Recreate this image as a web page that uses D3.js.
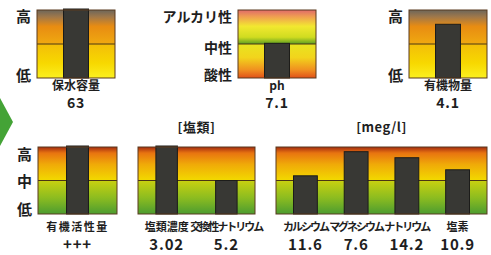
<!DOCTYPE html>
<html>
<head>
<meta charset="utf-8">
<script src="https://cdn.jsdelivr.net/npm/d3@7"></script>
<style>
  body { margin: 0; background: #fff; }
  text { font-family: "Noto Sans CJK JP", "Noto Sans", sans-serif; font-weight: bold; fill: #1e1e1e; }
</style>
</head>
<body>
<div id="chart"></div>
<script>
// soil analysis values (levels are bar heights, 0-100)
var waterLabels = ["保水容量"];
var waterValues = ["63"];
var waterLevels = [100];

var phLabels = ["ph"];
var phValues = ["7.1"];
var phLevels = [51];

var organicLabels = ["有機物量"];
var organicValues = ["4.1"];
var organicLevels = [79];

var activityLabels = ["有機活性量"];
var activityValues = ["+++"];
var activityLevels = [100];

var saltLabels = ["塩類濃度", "交換性ナトリウム"];
var saltValues = ["3.02", "5.2"];
var saltLevels = [100, 50];

var ionLabels = ["カルシウム", "マグネシウム", "ナトリウム", "塩素"];
var ionValues = ["11.6", "7.6", "14.2", "10.9"];
var ionLevels = [57, 93, 84, 66];

var hiLoTicks = ["低", "高"];
var hiMidLoTicks = ["低", "中", "高"];
var phTicks = ["酸性", "中性", "アルカリ性"];

var width = 491;
var height = 255;

var svg = d3.select("#chart").append("svg")
    .attr("width", width)
    .attr("height", height);

var defs = svg.append("defs");

// gradient backgrounds of the panels
function addGradient(id, stops) {
    var g = defs.append("linearGradient")
        .attr("id", id)
        .attr("x1", 0).attr("y1", 0)
        .attr("x2", 0).attr("y2", 1);
    stops.forEach(function(s) {
        g.append("stop").attr("offset", s[0]).attr("stop-color", s[1]);
    });
}

addGradient("amber", [
    [0, "#6c665a"], [0.1, "#a0784a"], [0.24, "#e88c12"], [0.49, "#f0a810"],
    [0.5, "#f3be08"], [0.78, "#f7d800"], [1, "#fbf020"]
]);
addGradient("phgrad", [
    [0, "#e06a6a"], [0.1, "#f0a050"], [0.24, "#f2e830"], [0.4, "#d0dc20"],
    [0.5, "#5c9e22"], [0.5, "#e8e420"], [0.7, "#f2d41c"], [0.88, "#f09020"], [1, "#e05018"]
]);
addGradient("green", [
    [0, "#a42c10"], [0.09, "#e87410"], [0.26, "#f0aa08"], [0.49, "#f2d800"],
    [0.5, "#c8d010"], [0.76, "#8cbc20"], [1, "#4c9c30"]
]);

// green arrow on the left edge
svg.append("path")
    .attr("d", d3.line()([[0, 98], [13, 122], [0, 146]]) + "Z")
    .attr("fill", "#44a336");

var panels = [
    {x0: 37, x1: 115, y0: 10, y1: 78, grad: "amber", pad: 0.515,
     labels: waterLabels, values: waterValues, levels: waterLevels,
     ticks: hiLoTicks, tickVals: [3, 90], tickSize: 15, big: true},
    {x0: 238, x1: 316, y0: 10, y1: 78, grad: "phgrad", pad: 0.515,
     labels: phLabels, values: phValues, levels: phLevels,
     ticks: phTicks, tickVals: [4, 44, 90], tickSize: 14, big: true},
    {x0: 409, x1: 487, y0: 10, y1: 78, grad: "amber", pad: 0.515,
     labels: organicLabels, values: organicValues, levels: organicLevels,
     ticks: hiLoTicks, tickVals: [4, 90], tickSize: 15, big: true},
    {x0: 38, x1: 117, y0: 147, y1: 214, grad: "green", pad: 0.565,
     labels: activityLabels, values: activityValues, levels: activityLevels,
     ticks: hiMidLoTicks, tickVals: [6, 48, 88], tickSize: 15, big: false, spacing: 1.5},
    {x0: 138, x1: 255, y0: 147, y1: 214, grad: "green", padIn: 0.64, padOut: 0.3,
     labels: saltLabels, values: saltValues, levels: saltLevels,
     title: "[塩類]", big: false},
    {x0: 276, x1: 487, y0: 147, y1: 214, grad: "green", padIn: 0.53, padOut: 0.345,
     labels: ionLabels, values: ionValues, levels: ionLevels,
     title: "[meg/l]", big: false}
];

var katakana = /[\u30A0-\u30FF]/;

panels.forEach(function(p) {
    var g = svg.append("g");

    var x = d3.scaleBand()
        .domain(p.labels)
        .range([p.x0, p.x1]);
    if (p.pad !== undefined) x.padding(p.pad);
    else x.paddingInner(p.padIn).paddingOuter(p.padOut);

    var y = d3.scaleLinear()
        .domain([0, 100])
        .range([p.y1, p.y0]);

    g.append("rect")
        .attr("x", p.x0)
        .attr("y", p.y0)
        .attr("width", p.x1 - p.x0)
        .attr("height", p.y1 - p.y0)
        .attr("fill", "url(#" + p.grad + ")");

    // middle line
    g.append("line")
        .attr("x1", p.x0).attr("x2", p.x1)
        .attr("y1", y(50)).attr("y2", y(50))
        .attr("stroke", "#4a3414")
        .attr("stroke-width", 1.2);

    g.selectAll(".bar")
        .data(p.levels)
        .enter().append("rect")
        .attr("class", "bar")
        .attr("x", function(d, i) { return x(p.labels[i]); })
        .attr("y", function(d) { return y(d) - (d >= 100 ? 1 : 0); })
        .attr("width", x.bandwidth())
        .attr("height", function(d) { return p.y1 - y(d) + (d >= 100 ? 1 : 0); })
        .attr("fill", "#383834")
        .attr("stroke", "#1c1c1a")
        .attr("stroke-width", 1);

    g.append("rect")
        .attr("x", p.x0)
        .attr("y", p.y0)
        .attr("width", p.x1 - p.x0)
        .attr("height", p.y1 - p.y0)
        .attr("fill", "none")
        .attr("stroke", "#5a3a1e")
        .attr("stroke-width", 1);

    // left labels 高/中/低
    if (p.ticks) {
        var ax = g.append("g")
            .attr("transform", "translate(" + p.x0 + ",0)")
            .call(d3.axisLeft(y)
                .tickValues(p.tickVals)
                .tickSize(0)
                .tickPadding(6)
                .tickFormat(function(d, i) { return p.ticks[i]; }));
        ax.select(".domain").remove();
        ax.selectAll("text")
            .attr("fill", null)
            .style("font-size", p.tickSize + "px")
            .style("font-family", null);
    }

    if (p.title) {
        g.append("text")
            .attr("x", (p.x0 + p.x1) / 2)
            .attr("y", 132)
            .attr("text-anchor", "middle")
            .style("font-size", "13px")
            .style("letter-spacing", "0.5px")
            .text(p.title);
    }

    var labelY = p.big ? 90 : 231;
    var valueY = p.big ? 108 : 250;

    g.selectAll(".cat")
        .data(p.labels)
        .enter().append("text")
        .attr("x", function(d) { return x(d) + x.bandwidth() / 2; })
        .attr("y", labelY)
        .attr("text-anchor", "middle")
        .style("font-size", p.big ? "12px" : "11px")
        .style("letter-spacing", function(d) {
            if (p.spacing) return p.spacing + "px";
            return katakana.test(d) ? "-2px" : "0px";
        })
        .text(function(d) { return d; });

    g.selectAll(".val")
        .data(p.values)
        .enter().append("text")
        .attr("x", function(d, i) { return x(p.labels[i]) + x.bandwidth() / 2; })
        .attr("y", valueY)
        .attr("text-anchor", "middle")
        .style("font-size", p.big ? "14px" : "15px")
        .style("letter-spacing", "0.8px")
        .text(function(d) { return d; });
});
</script>
</body>
</html>
